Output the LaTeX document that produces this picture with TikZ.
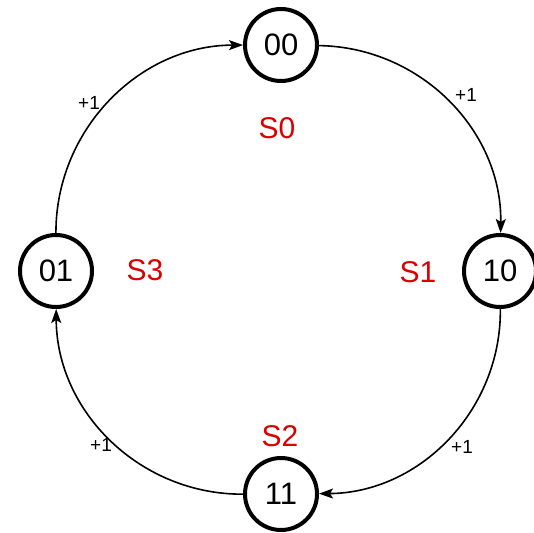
\documentclass[tikz,border=0pt]{standalone}
\usepackage{fontspec}
\setmainfont{Liberation Sans}
\usetikzlibrary{arrows.meta}
\begin{document}
\begin{tikzpicture}[x=1pt,y=-1pt,
  state/.style={circle,draw=black,line width=4pt,minimum size=72pt,inner sep=0pt,
    font=\fontsize{31}{36}\selectfont},
  slabel/.style={text=red!85!black,font=\fontsize{30}{34}\selectfont,inner sep=0pt},
  inc/.style={font=\fontsize{19}{22}\selectfont,inner sep=0pt},
  edge/.style={line width=1.6pt,-{Stealth[length=14pt,width=10pt,inset=3pt]},bend left=45}]
\useasboundingbox (0,0) rectangle (534,532);
\node[state] (s00) at (281,45) {00};
\node[state] (s10) at (500,271) {10};
\node[state] (s11) at (281,494) {11};
\node[state] (s01) at (56,271) {01};
\node[slabel] (l0) at (277,128) {S0};
\node[slabel] (l1) at (418,272) {S1};
\node[slabel] (l2) at (280,436) {S2};
\node[slabel] (l3) at (145,270) {S3};
\node[inc] (p1) at (466,95) {+1};
\node[inc] (p2) at (462,447) {+1};
\node[inc] (p3) at (101,445) {+1};
\node[inc] (p4) at (89,103) {+1};
\draw[edge] (s00) to (s10);
\draw[edge] (s10) to (s11);
\draw[edge] (s11) to (s01);
\draw[edge] (s01) to (s00);
\end{tikzpicture}
\end{document}
